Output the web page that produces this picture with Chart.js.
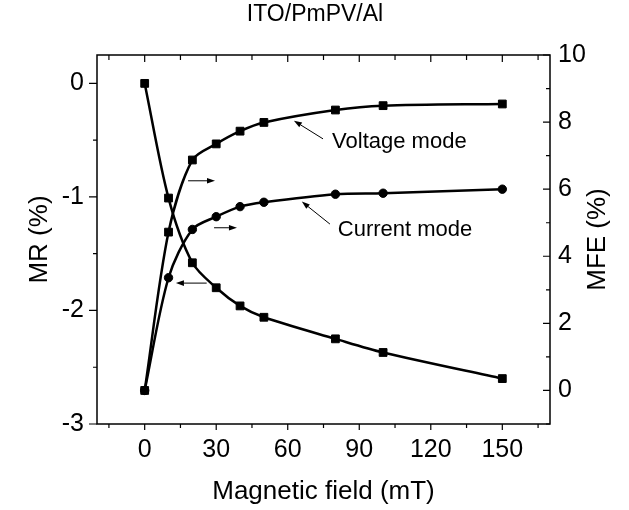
<!DOCTYPE html>
<html>
<head>
<meta charset="utf-8">
<script src="https://cdn.jsdelivr.net/npm/chart.js@4.4.1/dist/chart.umd.min.js"></script>
<style>
  html, body { margin: 0; padding: 0; background: #fff; }
</style>
</head>
<body>
<canvas id="chart" width="629" height="510"></canvas>
<script>
// -------------------------- Data

// magnetic field (mT)
const field = [0, 10, 20, 30, 40, 50, 80, 100, 150];
// MR (%), left axis
const mr = [0, -1.01, -1.58, -1.80, -1.96, -2.06, -2.25, -2.37, -2.60];
// MFE (%), right axis
const mfeVoltage = [0, 4.72, 6.87, 7.35, 7.73, 7.99, 8.36, 8.49, 8.54];
const mfeCurrent = [0, 3.36, 4.80, 5.18, 5.48, 5.61, 5.85, 5.88, 6.00];

const xTicks = [0, 30, 60, 90, 120, 150];
const xMinor = [-15, 15, 45, 75, 105, 135, 165];
const mrTicks = [-3, -2, -1, 0];
const mrMinor = [-2.5, -1.5, -0.5];
const mfeTicks = [0, 2, 4, 6, 8, 10];
const mfeMinor = [-1, 1, 3, 5, 7, 9];

// --------------------------- Annotations (x in mT, y on the MFE axis)

const notes = [
    {text: 'Voltage mode', x: 78.6, y: 7.40},
    {text: 'Current mode', x: 81.0, y: 4.78},
];
const arrows = [
    {from: [74.8, 7.50], to: [62.6, 8.04]},   // voltage mode
    {from: [77.7, 4.96], to: [65.9, 5.63]},   // current mode
    {from: [18.2, 6.25], to: [29.5, 6.25]},   // -> right axis
    {from: [29.1, 4.85], to: [38.7, 4.85]},   // -> right axis
    {from: [26.0, 3.20], to: [13.1, 3.20]},   // <- left axis
];

const FONT = "'Liberation Sans', Arial, sans-serif";

function drawArrow(ctx, x1, y1, x2, y2) {
    const ang = Math.atan2(y2 - y1, x2 - x1);
    const len = 8, half = 2.8;
    ctx.beginPath();
    ctx.moveTo(x1, y1);
    ctx.lineTo(x2 - len * Math.cos(ang), y2 - len * Math.sin(ang));
    ctx.stroke();
    ctx.beginPath();
    ctx.moveTo(x2, y2);
    ctx.lineTo(x2 - len * Math.cos(ang) + half * Math.sin(ang), y2 - len * Math.sin(ang) - half * Math.cos(ang));
    ctx.lineTo(x2 - len * Math.cos(ang) - half * Math.sin(ang), y2 - len * Math.sin(ang) + half * Math.cos(ang));
    ctx.closePath();
    ctx.fill();
}

// frame, tick marks (Origin style), titles and annotations
const framePlugin = {
    id: 'frame',
    afterDatasetsDraw(chart) {
        const {ctx, chartArea: a, scales} = chart;
        const x = scales.x, yL = scales.yMR, yR = scales.yMFE;
        ctx.save();
        ctx.strokeStyle = '#000';
        ctx.fillStyle = '#000';
        ctx.lineWidth = 1.5;
        ctx.strokeRect(a.left, a.top, a.right - a.left, a.bottom - a.top);

        ctx.lineWidth = 1.2;
        ctx.beginPath();
        // bottom: outward, top: inward
        xTicks.concat(xMinor).forEach(v => {
            const px = x.getPixelForValue(v);
            const major = xTicks.includes(v);
            ctx.moveTo(px, a.bottom); ctx.lineTo(px, a.bottom + (major ? 6 : 4));
            ctx.moveTo(px, a.top); ctx.lineTo(px, a.top + (major ? 7 : 5));
        });
        // left: outward
        mrTicks.concat(mrMinor).forEach(v => {
            const py = yL.getPixelForValue(v);
            const major = mrTicks.includes(v);
            ctx.moveTo(a.left, py); ctx.lineTo(a.left - (major ? 8 : 4), py);
        });
        // right: inward
        mfeTicks.concat(mfeMinor).forEach(v => {
            const py = yR.getPixelForValue(v);
            const major = mfeTicks.includes(v);
            ctx.moveTo(a.right, py); ctx.lineTo(a.right - (major ? 7 : 4), py);
        });
        ctx.stroke();

        // titles
        ctx.textAlign = 'center';
        ctx.textBaseline = 'middle';
        ctx.font = '23px ' + FONT;
        ctx.fillText('ITO/PmPV/Al', 315, 15);
        ctx.font = '26px ' + FONT;
        ctx.fillText('Magnetic field (mT)', (a.left + a.right) / 2, 492);
        const midY = (a.top + a.bottom) / 2;
        ctx.save();
        ctx.translate(40, midY);
        ctx.rotate(-Math.PI / 2);
        ctx.fillText('MR (%)', 0, 0);
        ctx.restore();
        ctx.save();
        ctx.translate(598, midY);
        ctx.rotate(-Math.PI / 2);
        ctx.fillText('MFE (%)', 0, 0);
        ctx.restore();

        // notes and arrows
        ctx.font = '22px ' + FONT;
        ctx.textAlign = 'left';
        notes.forEach(n => {
            ctx.fillText(n.text, x.getPixelForValue(n.x), yR.getPixelForValue(n.y));
        });
        ctx.lineWidth = 1;
        arrows.forEach(r => {
            drawArrow(ctx,
                x.getPixelForValue(r.from[0]), yR.getPixelForValue(r.from[1]),
                x.getPixelForValue(r.to[0]), yR.getPixelForValue(r.to[1]));
        });
        ctx.restore();
    }
};

function series(ys) {
    return field.map((f, i) => ({x: f, y: ys[i]}));
}

const lineStyle = {
    borderColor: '#000',
    backgroundColor: '#000',
    borderWidth: 2.5,
    pointBackgroundColor: '#000',
    pointBorderColor: '#000',
    pointBorderWidth: 1,
    tension: 0.3,      // smooth spline like the original
    fill: false,
};

const tickFont = {family: FONT, size: 25};

new Chart(document.getElementById('chart'), {
    type: 'line',
    data: {
        datasets: [
            Object.assign({label: 'MR', data: series(mr), yAxisID: 'yMR', pointStyle: 'rect', pointRadius: 5.5}, lineStyle),
            Object.assign({label: 'MFE current mode', data: series(mfeCurrent), yAxisID: 'yMFE', pointStyle: 'circle', pointRadius: 4.2}, lineStyle),
            Object.assign({label: 'MFE voltage mode', data: series(mfeVoltage), yAxisID: 'yMFE', pointStyle: 'rect', pointRadius: 5.5}, lineStyle),
        ]
    },
    options: {
        responsive: false,
        animation: false,
        layout: {padding: {top: 55, left: 0, right: 0, bottom: 0}},
        plugins: {
            legend: {display: false},
            tooltip: {enabled: false},
        },
        scales: {
            x: {
                type: 'linear',
                min: -20,
                max: 170,
                grid: {display: false, drawTicks: false},
                border: {display: false},
                ticks: {font: tickFont, color: '#000', padding: 11},
                afterBuildTicks: s => { s.ticks = xTicks.map(v => ({value: v})); },
                afterFit: s => { s.height = 86; },
            },
            yMR: {
                type: 'linear',
                position: 'left',
                min: -3,
                max: 0.25,
                grid: {display: false, drawTicks: false},
                border: {display: false},
                ticks: {font: tickFont, color: '#000', padding: 13},
                afterBuildTicks: s => { s.ticks = mrTicks.map(v => ({value: v})); },
                afterFit: s => { s.width = 97; },
            },
            yMFE: {
                type: 'linear',
                position: 'right',
                min: -1,
                max: 10,
                grid: {display: false, drawTicks: false},
                border: {display: false},
                ticks: {font: tickFont, color: '#000', padding: 8},
                afterBuildTicks: s => { s.ticks = mfeTicks.map(v => ({value: v})); },
                afterFit: s => { s.width = 79; },
            },
        }
    },
    plugins: [framePlugin]
});
</script>
</body>
</html>
